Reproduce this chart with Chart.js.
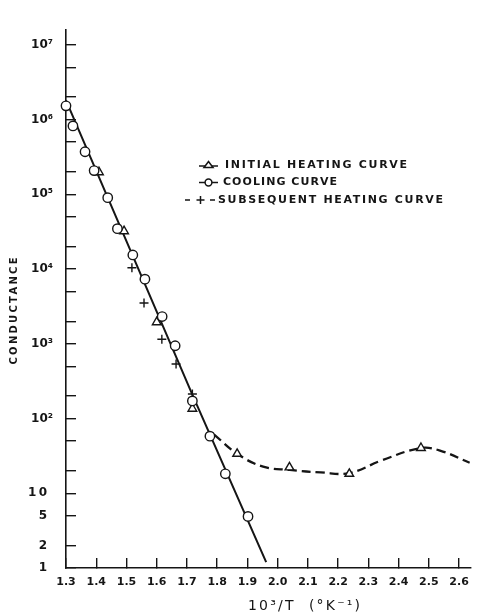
<!DOCTYPE html>
<html>
<head>
<meta charset="utf-8">
<script src="https://cdn.jsdelivr.net/npm/chart.js@4.4.1/dist/chart.umd.min.js"></script>
<style>
html,body{margin:0;padding:0;background:#fff;}
#wrap{width:487px;height:615px;}
</style>
</head>
<body>
<div id="wrap"><canvas id="c" width="487" height="615"></canvas></div>
<script>
// ---- tick labels ----
const xTickLabels = ['1.3','1.4','1.5','1.6','1.7','1.8','1.9','2.0','2.1','2.2','2.3','2.4','2.5','2.6'];
const yTickValues = [1,2,5,10,20,50,100,200,500,1e3,2e3,5e3,1e4,2e4,5e4,1e5,2e5,5e5,1e6,2e6,5e6,1e7];
const yLabelValues = [1,2,5,10,1e2,1e3,1e4,1e5,1e6,1e7];
const yLabelTexts = ['1\u2002','2\u2002','5\u2002','1\u20090\u2002','10²','10³','10⁴','10⁵','10⁶','10⁷'];

// ---- series: cooling curve (circles) ----
const coolingX = [1.300,1.323,1.363,1.393,1.438,1.470,1.521,1.561,1.618,1.661,1.718,1.776,1.827,1.902];
const coolingY = [1.52e6,8.2e5,3.7e5,2.07e5,9.0e4,3.46e4,1.54e4,7.3e3,2.31e3,940,172,58,18.2,4.9];

// ---- series: initial heating curve (triangles) ----
const initialX = [1.409,1.492,1.600,1.718,1.866,2.039,2.237,2.474];
const initialY = [1.97e5,3.2e4,1.94e3,135,33.7,22.2,18.2,40.3];

// ---- series: subsequent heating curve (crosses) ----
const subsequentX = [1.518,1.558,1.617,1.664,1.718];
const subsequentY = [1.04e4,3.5e3,1.15e3,535,213];

// ---- fitted solid line ----
const solidX = [1.300,1.7175,1.962];
const solidY = [1.8e6,210,1.2];

// ---- dashed (initial heating, low temperature) curve ----
const dashX = [1.79,1.866,1.952,2.040,2.143,2.237,2.346,2.474,2.537,2.635];
const dashY = [61,33.7,22.7,20.5,19.0,18.6,27.7,40.3,37.2,25.6];

const pts = (xs, ys) => xs.map((x, i) => ({x: x, y: ys[i]}));
const INK = '#151515';
const FONT = 'DejaVu Sans';

function fitText(ctx, text, x, y, target, align) {
  const hasLS = 'letterSpacing' in ctx;
  if (hasLS) ctx.letterSpacing = '0px';
  const w = ctx.measureText(text).width;
  const n = [...text].length;
  let sp = n > 1 ? (target - w) / (n - 1) : 0;
  if (sp < -1) sp = -1;
  if (hasLS) {
    ctx.letterSpacing = sp.toFixed(2) + 'px';
    const shift = align === 'center' ? sp / 2 : 0;
    ctx.textAlign = align;
    ctx.fillText(text, x + shift, y);
    ctx.letterSpacing = '0px';
  } else {
    ctx.textAlign = align;
    ctx.fillText(text, x, y);
  }
}

const annotations = {
  id: 'annotations',
  afterDraw(chart) {
    const ctx = chart.ctx;
    ctx.save();
    ctx.fillStyle = INK;
    ctx.strokeStyle = INK;
    ctx.textBaseline = 'middle';

    // y-axis title
    ctx.save();
    ctx.translate(14, 311);
    ctx.rotate(-Math.PI / 2);
    ctx.font = 'bold 10px ' + FONT;
    fitText(ctx, 'CONDUCTANCE', 0, 0, 107, 'center');
    ctx.restore();

    // x-axis title
    ctx.font = '14px ' + FONT;
    fitText(ctx, '10³/T  (°K⁻¹)', 304, 606, 112, 'center');

    // legend
    ctx.font = 'bold 11px ' + FONT;
    fitText(ctx, 'INITIAL HEATING CURVE', 225, 165, 182, 'left');
    fitText(ctx, 'COOLING CURVE', 223, 182.5, 114, 'left');
    fitText(ctx, 'SUBSEQUENT HEATING CURVE', 218, 200, 225, 'left');

    ctx.lineWidth = 1.5;
    // triangle symbol
    ctx.beginPath(); ctx.moveTo(199, 166); ctx.lineTo(218, 166); ctx.stroke();
    ctx.beginPath();
    ctx.moveTo(208.5, 161.5); ctx.lineTo(213, 167.5); ctx.lineTo(204, 167.5); ctx.closePath();
    ctx.fillStyle = '#fff'; ctx.fill(); ctx.stroke();
    // circle symbol
    ctx.beginPath(); ctx.moveTo(199, 182.5); ctx.lineTo(218, 182.5); ctx.stroke();
    ctx.beginPath(); ctx.arc(208.5, 182.5, 3.4, 0, Math.PI * 2);
    ctx.fill(); ctx.stroke();
    // cross symbol with dashes
    ctx.beginPath();
    ctx.moveTo(185, 200); ctx.lineTo(190, 200);
    ctx.moveTo(210, 200); ctx.lineTo(215, 200);
    ctx.moveTo(196.5, 200); ctx.lineTo(204.5, 200);
    ctx.moveTo(200.5, 196); ctx.lineTo(200.5, 204);
    ctx.stroke();
    ctx.restore();
  }
};

new Chart(document.getElementById('c'), {
  type: 'scatter',
  data: {
    datasets: [
      { label: 'fit', data: pts(solidX, solidY), showLine: true, borderColor: INK, borderWidth: 2,
        pointRadius: 0, tension: 0, clip: false, order: 5 },
      { label: 'dashed', data: pts(dashX, dashY), showLine: true, borderColor: INK, borderWidth: 2.3,
        borderDash: [9, 5], pointRadius: 0, tension: 0.4, clip: false, order: 4 },
      { label: 'COOLING CURVE', data: pts(coolingX, coolingY), pointStyle: 'circle', pointRadius: 4.7,
        borderColor: INK, backgroundColor: '#fff', borderWidth: 1.4, clip: false, order: 1 },
      { label: 'INITIAL HEATING CURVE', data: pts(initialX, initialY), pointStyle: 'triangle', pointRadius: 5,
        borderColor: INK, backgroundColor: '#fff', borderWidth: 1.4, clip: false, order: 2 },
      { label: 'SUBSEQUENT HEATING CURVE', data: pts(subsequentX, subsequentY), pointStyle: 'cross', pointRadius: 4.5,
        borderColor: INK, backgroundColor: INK, borderWidth: 1.4, clip: false, order: 3 }
    ]
  },
  options: {
    responsive: false,
    animation: false,
    devicePixelRatio: 1,
    layout: { padding: { top: 9, right: 2, left: 0, bottom: 0 } },
    plugins: { legend: { display: false }, tooltip: { enabled: false } },
    scales: {
      x: {
        type: 'linear', position: 'bottom', min: 1.3, max: 2.64,
        afterBuildTicks: (s) => { s.ticks = xTickLabels.map(t => ({ value: parseFloat(t) })); },
        afterFit: (s) => { s.height = 47; },
        border: { display: true, color: INK, width: 1.6 },
        grid: { drawOnChartArea: false, drawTicks: true, tickLength: -10, color: INK, lineWidth: 1.4 },
        ticks: { autoSkip: false, maxRotation: 0, padding: 18, color: INK,
                 font: { family: FONT, size: 11, weight: 'bold' },
                 callback: (v, i) => xTickLabels[i] },
        title: { display: false }
      },
      y: {
        type: 'logarithmic', position: 'left', min: 1, max: 1.563e7,
        afterBuildTicks: (s) => { s.ticks = yTickValues.map(v => ({ value: v })); },
        afterFit: (s) => { s.width = 66; },
        border: { display: true, color: INK, width: 1.6 },
        grid: { drawOnChartArea: false, drawTicks: true, tickLength: -10, color: INK, lineWidth: 1.4 },
        ticks: { autoSkip: false, padding: 23, color: INK,
                 font: { family: FONT, size: 12, weight: 'bold' },
                 callback: (v) => { const k = yLabelValues.indexOf(v); return k >= 0 ? yLabelTexts[k] : ''; } },
        title: { display: false }
      }
    }
  },
  plugins: [annotations]
});
</script>
</body>
</html>
